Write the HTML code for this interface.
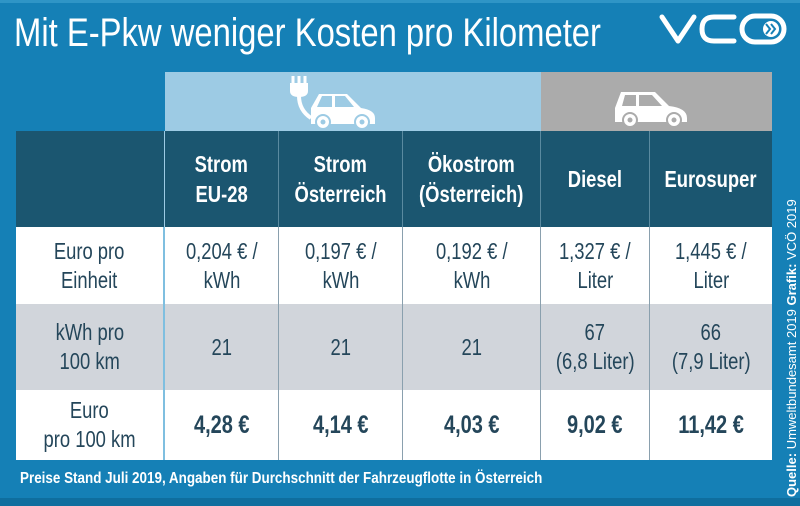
<!DOCTYPE html>
<html><head><meta charset="utf-8"><style>
body{margin:0;width:800px;height:506px;background:#1580b6;position:relative;overflow:hidden;font-family:"Liberation Sans",sans-serif}
.a{position:absolute;box-sizing:border-box}
.c{display:flex;align-items:center;justify-content:center;text-align:center;flex-direction:column}
.c span{display:inline-block;transform:scaleX(0.8);white-space:nowrap}
.h{background:#1b5670;color:#fff;font-weight:bold;font-size:23px;line-height:30px;border-right:1px solid #5a8aa0}
.t{color:#24465a;font-size:23px;line-height:29px;border-right:1px solid #8aa0ae}
.b{font-weight:bold;font-size:25px}
</style></head><body>
<div class="a" style="left:0;top:0;width:800px;height:3px;background:#2f95c6"></div>
<div class="a" style="left:14px;top:11px;color:#fff;font-size:40px;white-space:nowrap;transform:scaleX(0.82);transform-origin:left">Mit E-Pkw weniger Kosten pro Kilometer</div>
<svg class="a" style="left:658px;top:12px" width="135" height="34" viewBox="0 0 135 34">
<path d="M4 5 L20 29 L36 5" fill="none" stroke="#fff" stroke-width="5" stroke-linecap="round" stroke-linejoin="round"/>
<path d="M76 5 H56 Q44 5 44 17 Q44 29 56 29 H76" fill="none" stroke="#fff" stroke-width="5" stroke-linecap="round"/>
<rect x="84" y="4" width="42" height="26" rx="13" fill="none" stroke="#fff" stroke-width="5"/>
<circle cx="113" cy="17" r="8" fill="#fff"/>
<path d="M108 12 l4 5 -4 5 M113 12 l4 5 -4 5" stroke="#1580b6" stroke-width="2" fill="none"/>
</svg>
<div class="a" style="left:165px;top:72px;width:376px;height:59px;background:#9dcbe4"></div>
<div class="a" style="left:541px;top:72px;width:231px;height:59px;background:#ababab"></div>
<svg class="a" style="left:285px;top:74px" width="110" height="56" viewBox="0 0 110 56">
<path d="M8 2 v8 M14 2 v8 M20 2 v8" stroke="#fff" stroke-width="3"/>
<path d="M5 9 h18 v8 q0 6 -9 6 q-9 0 -9 -6z" fill="#fff"/>
<path d="M14 22 q0 14 12 22" stroke="#fff" stroke-width="4" fill="none"/>
<path d="M26 44 v-10 l8 -14 h28 l14 14 q14 2 14 10 v6 H26z" fill="#fff"/>
<path d="M37 22 h10 v11 h-15z M50 22 h10 l9 11 h-19z" fill="#9dcbe4"/>
<circle cx="38" cy="48" r="7" fill="#fff" stroke="#9dcbe4" stroke-width="2"/><circle cx="38" cy="48" r="2.5" fill="#9dcbe4"/>
<circle cx="77" cy="48" r="7" fill="#fff" stroke="#9dcbe4" stroke-width="2"/><circle cx="77" cy="48" r="2.5" fill="#9dcbe4"/>
</svg>
<svg class="a" style="left:612px;top:80px" width="80" height="50" viewBox="0 0 80 50">
<path d="M3 40 v-12 l6 -16 h34 l14 14 q18 2 18 12 v4 H3z" fill="#fff"/>
<path d="M13 15 h11 v11 h-14z M27 15 h13 l10 11 h-23z" fill="#ababab"/>
<circle cx="18" cy="40" r="7" fill="#fff" stroke="#ababab" stroke-width="2"/><circle cx="18" cy="40" r="2.5" fill="#ababab"/>
<circle cx="62" cy="40" r="7" fill="#fff" stroke="#ababab" stroke-width="2"/><circle cx="62" cy="40" r="2.5" fill="#ababab"/>
</svg>
<div class="a h" style="left:16px;top:131px;width:149px;height:96px;border-right:1px solid #9dcbe4"></div>
<div class="a h c" style="left:165px;top:131px;width:114px;height:96px"><span>Strom</span><span>EU-28</span></div>
<div class="a h c" style="left:279px;top:131px;width:124px;height:96px"><span>Strom</span><span>Österreich</span></div>
<div class="a h c" style="left:403px;top:131px;width:138px;height:96px"><span>Ökostrom</span><span>(Österreich)</span></div>
<div class="a h c" style="left:541px;top:131px;width:109px;height:96px"><span>Diesel</span></div>
<div class="a h c" style="left:650px;top:131px;width:122px;height:96px;border-right:0"><span>Eurosuper</span></div>

<div class="a" style="left:16px;top:227px;width:756px;height:77px;background:#fff"></div>
<div class="a" style="left:16px;top:304px;width:756px;height:86px;background:#d1d5db"></div>
<div class="a" style="left:16px;top:390px;width:756px;height:70px;background:#fff"></div>

<div class="a t c" style="left:16px;top:227px;width:149px;height:77px;border-right:2px solid #7fbfe0"><span>Euro pro</span><span>Einheit</span></div>
<div class="a t c" style="left:165px;top:227px;width:114px;height:77px"><span>0,204 € /</span><span>kWh</span></div>
<div class="a t c" style="left:279px;top:227px;width:124px;height:77px"><span>0,197 € /</span><span>kWh</span></div>
<div class="a t c" style="left:403px;top:227px;width:138px;height:77px"><span>0,192 € /</span><span>kWh</span></div>
<div class="a t c" style="left:541px;top:227px;width:109px;height:77px"><span>1,327 € /</span><span>Liter</span></div>
<div class="a t c" style="left:650px;top:227px;width:122px;height:77px;border-right:0"><span>1,445 € /</span><span>Liter</span></div>

<div class="a t c" style="left:16px;top:304px;width:149px;height:86px;border-right:2px solid #7fbfe0"><span>kWh pro</span><span>100 km</span></div>
<div class="a t c" style="left:165px;top:304px;width:114px;height:86px"><span>21</span></div>
<div class="a t c" style="left:279px;top:304px;width:124px;height:86px"><span>21</span></div>
<div class="a t c" style="left:403px;top:304px;width:138px;height:86px"><span>21</span></div>
<div class="a t c" style="left:541px;top:304px;width:109px;height:86px"><span>67</span><span>(6,8 Liter)</span></div>
<div class="a t c" style="left:650px;top:304px;width:122px;height:86px;border-right:0"><span>66</span><span>(7,9 Liter)</span></div>

<div class="a t c" style="left:16px;top:390px;width:149px;height:70px;border-right:2px solid #7fbfe0"><span>Euro</span><span>pro 100 km</span></div>
<div class="a t c b" style="left:165px;top:390px;width:114px;height:70px"><span>4,28 €</span></div>
<div class="a t c b" style="left:279px;top:390px;width:124px;height:70px"><span>4,14 €</span></div>
<div class="a t c b" style="left:403px;top:390px;width:138px;height:70px"><span>4,03 €</span></div>
<div class="a t c b" style="left:541px;top:390px;width:109px;height:70px"><span>9,02 €</span></div>
<div class="a t c b" style="left:650px;top:390px;width:122px;height:70px;border-right:0"><span>11,42 €</span></div>

<div class="a" style="left:20px;top:470px;color:#fff;font-weight:bold;font-size:16px;white-space:nowrap;transform:scaleX(0.84);transform-origin:left">Preise Stand Juli 2019, Angaben für Durchschnitt der Fahrzeugflotte in Österreich</div>
<div class="a" style="left:0;top:498px;width:800px;height:8px;background:#0f6e9e"></div>
<div class="a" style="left:784px;top:497px;transform:rotate(-90deg);transform-origin:left top;color:#fff;font-size:13px;white-space:nowrap;width:0"><span style="white-space:nowrap"><b>Quelle:</b> Umweltbundesamt 2019 <b>Grafik:</b> VCÖ 2019</span></div>
</body></html>
